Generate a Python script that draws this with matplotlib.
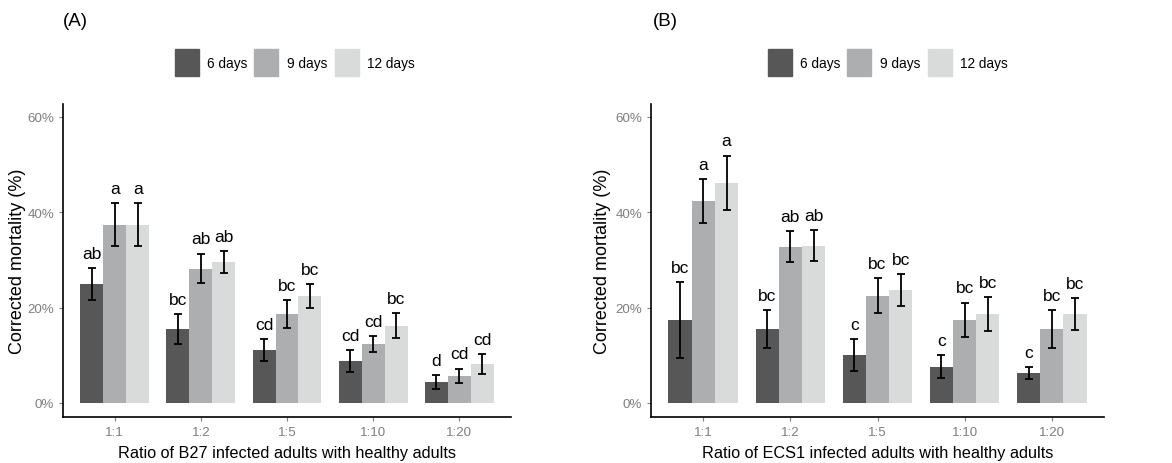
import numpy as np
import matplotlib
matplotlib.use("Agg")
import matplotlib.pyplot as plt
from matplotlib.patches import Rectangle
from matplotlib.ticker import FuncFormatter

plt.rcParams['font.family'] = ['Liberation Sans', 'DejaVu Sans']

ratios = ['1:1', '1:2', '1:5', '1:10', '1:20']
days = ['6 days', '9 days', '12 days']
colors = ['#575757', '#ADAEAF', '#D9DADA']

# panel A (B27) mean corrected mortality (%) and SE, per day group
b27_mean = [[25.0, 15.5, 11.1, 8.8, 4.4],
            [37.4, 28.2, 18.7, 12.4, 5.7],
            [37.4, 29.6, 22.5, 16.2, 8.2]]
b27_se = [[3.3, 3.15, 2.3, 2.3, 1.45],
          [4.5, 3.1, 2.9, 1.65, 1.5],
          [4.5, 2.25, 2.5, 2.65, 2.1]]
b27_letters = [['ab', 'bc', 'cd', 'cd', 'd'],
               ['a', 'ab', 'bc', 'cd', 'cd'],
               ['a', 'ab', 'bc', 'bc', 'cd']]

# panel B (ECS1)
ecs1_mean = [[17.4, 15.5, 10.1, 7.6, 6.3],
             [42.4, 32.8, 22.5, 17.4, 15.5],
             [46.2, 33.0, 23.7, 18.7, 18.7]]
ecs1_se = [[7.95, 3.9, 3.3, 2.45, 1.25],
           [4.6, 3.3, 3.65, 3.65, 4.05],
           [5.65, 3.25, 3.3, 3.5, 3.35]]
ecs1_letters = [['bc', 'bc', 'c', 'c', 'c'],
                ['a', 'ab', 'bc', 'bc', 'bc'],
                ['a', 'ab', 'bc', 'bc', 'bc']]

W, H = 1172, 464
fig = plt.figure(figsize=(W / 100, H / 100), dpi=100)


def px_box(left, top, right, bottom):
    return [left / W, 1 - bottom / H, (right - left) / W, (bottom - top) / H]


def draw_panel(ax, means, ses, letters, xlabel, ylab_x):
    x = np.arange(1, len(ratios) + 1)
    bw = 0.8 / 3
    for i in range(3):
        xs = x + (i - 1) * bw
        ax.bar(xs, means[i], width=bw, color=colors[i], zorder=2)
        ax.errorbar(xs, means[i], yerr=ses[i], fmt='none', ecolor='black',
                    elinewidth=1.3, capsize=2.6, capthick=1.3, zorder=3)
        for xx, m, s, lab in zip(xs, means[i], ses[i], letters[i]):
            ax.text(xx, m + s + 2.15, lab, ha='center', va='baseline',
                    fontsize=12.5, color='black')
    ax.set_xlim(0.4, 5.6)
    ax.set_ylim(-2.94, 62.7)
    ax.set_yticks([0, 20, 40, 60])
    ax.yaxis.set_major_formatter(FuncFormatter(lambda v, p: '%d%%' % v))
    ax.set_xticks(x)
    ax.set_xticklabels(ratios)
    ax.tick_params(colors='#7F7F7F', labelsize=9.6, length=3, width=0.8)
    for side in ['top', 'right']:
        ax.spines[side].set_visible(False)
    for side in ['left', 'bottom']:
        ax.spines[side].set_linewidth(1.2)
        ax.spines[side].set_color('black')
    ax.set_xlabel(xlabel, fontsize=11.7)
    ax.set_ylabel('Corrected mortality (%)', fontsize=13)
    ax.xaxis.set_label_coords(0.5, -0.088)
    ax.yaxis.set_label_coords(ylab_x, 0.5)


def draw_legend(x0):
    # x0: left pixel of first key
    offs = [(0, 32), (79, 112), (160, 192)]
    for i, (kx, tx) in enumerate(offs):
        fig.add_artist(Rectangle(((x0 + kx) / W, 1 - 77 / H), 24 / W, 27 / H,
                                 transform=fig.transFigure, color=colors[i]))
        fig.text((x0 + tx) / W, 1 - 64 / H, days[i], fontsize=9.8,
                 va='center', ha='left')


axA = fig.add_axes(px_box(63, 105, 511, 418))
draw_panel(axA, b27_mean, b27_se, b27_letters,
           'Ratio of B27 infected adults with healthy adults', -0.083)
axB = fig.add_axes(px_box(651, 105, 1104, 418))
draw_panel(axB, ecs1_mean, ecs1_se, ecs1_letters,
           'Ratio of ECS1 infected adults with healthy adults', -0.088)

draw_legend(175)
draw_legend(768)
fig.text(63 / W, 1 - 22 / H, '(A)', fontsize=13.5, va='center', ha='left')
fig.text(653 / W, 1 - 22 / H, '(B)', fontsize=13.5, va='center', ha='left')

fig.savefig('out.png', dpi=100)
